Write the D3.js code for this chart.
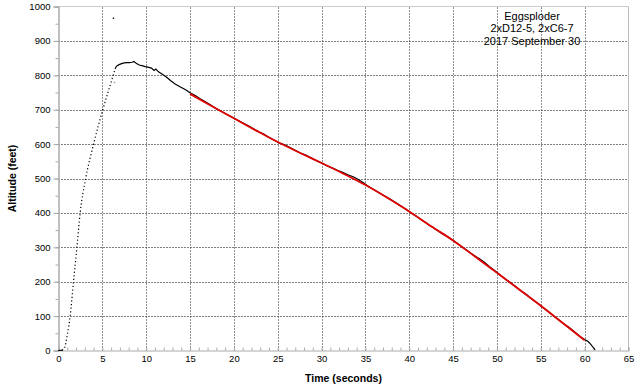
<!DOCTYPE html>
<html>
<head>
<meta charset="utf-8">
<script src="https://cdn.jsdelivr.net/npm/d3@7"></script>
<style>
  html, body { margin: 0; padding: 0; background: #fff; }
  svg { display: block; font-family: "Liberation Sans", Arial, sans-serif; }
</style>
</head>
<body>
<svg id="chart" width="640" height="388"></svg>
<script>
// Aufstieg (Punkte), Zeit in s / Höhe in ft
const ascentTime = [0, 0.3, 0.5, 0.7, 1.0, 1.33, 1.71, 2.1, 2.47, 3.1, 4.0, 5.05, 6.0, 6.45];
const ascentAlt  = [0, 1, 2, 8, 45, 100, 200, 300, 400, 500, 600, 700, 780, 818];

// Flugbahn nach Apogäum (schwarze Linie)
const flightTime = [6.45, 6.6, 6.9, 7.2, 7.5, 7.8, 8.1, 8.4, 8.6, 8.9, 9.2, 9.5, 9.9, 10.3, 10.6, 10.9, 11.1, 11.4, 11.8, 12.3, 12.8, 13.3, 13.9, 14.5,
  15, 15.6, 16.2, 16.8, 17.4, 18, 18.6, 19.2, 19.8, 20.4, 21, 21.6, 22.2, 22.8, 23.4, 24, 24.6, 25.2, 25.8, 26.4, 27, 27.6, 28.2, 28.8, 29.4,
  30, 30.6, 31.2, 31.8, 32.4, 33, 33.6, 34.2, 34.8, 35.4, 36, 36.6, 37.2, 37.8, 38.4, 39, 39.6, 40.2, 40.8, 41.4, 42, 42.6, 43.2, 43.8, 44.4,
  45, 45.6, 46.2, 46.8, 47.4, 48, 48.6, 49.2, 49.8, 50.4, 51, 51.6, 52.2, 52.8, 53.4, 54, 54.6, 55.2, 55.8, 56.4, 57, 57.6, 58.2, 58.8, 59.4,
  60, 60.4, 60.7, 61, 61.2];
const flightAlt = [818, 826, 831, 834, 836, 837, 837, 838, 840, 834, 830, 828, 825, 823, 821, 814, 818, 810, 804, 795, 784, 775, 766, 758,
  749, 741, 731, 722, 713, 703, 695, 686, 678, 670, 662, 654, 645, 636, 629, 619, 611, 603, 598, 590, 582, 574, 568, 560, 552,
  545, 537, 531, 524, 518, 511, 505, 497, 487, 476, 467, 458, 449, 440, 431, 421, 411, 400, 390, 380, 370, 359, 349, 339, 330,
  320, 309, 298, 287, 276, 267, 256, 243, 231, 219, 207, 196, 184, 172, 162, 149, 138, 126, 114, 102, 90, 78, 68, 55, 42,
  32, 26, 18, 8, 2];

// Ausgleichskurve Sinkflug (rot)
const fitTime = [15, 17.5, 20, 22.5, 25, 27.5, 30, 32.5, 35, 37.5, 40, 42.5, 45, 47.5, 50, 52.5, 55, 57.5, 60];
const fitAlt  = [746, 710, 675, 640, 606, 575, 545, 514, 481, 444, 404, 361, 320, 273, 226, 178, 130, 80, 30];

// Einzelne Ausreißer
const outlierTime = [6.27, 6.38];
const outlierAlt  = [966, 779];

const titleLines = ["Eggsploder", "2xD12-5, 2xC6-7", "2017 September 30"];
const xTicks = d3.range(0, 66, 5);
const yTicks = d3.range(0, 1001, 100);

const svg = d3.select("#chart");
const x = d3.scaleLinear().domain([0, 65]).range([58.5, 628.5]);
const y = d3.scaleLinear().domain([0, 1000]).range([350.5, 6.5]);

// Gitter
svg.append("g").selectAll("line").data(yTicks.filter(d => d > 0 && d < 1000)).join("line")
  .attr("x1", x(0)).attr("x2", x(65))
  .attr("y1", d => Math.round(y(d)) + 0.5).attr("y2", d => Math.round(y(d)) + 0.5)
  .attr("stroke", "#000").attr("stroke-dasharray", "1,2");
svg.append("g").selectAll("line").data(xTicks.filter(d => d > 0 && d < 65)).join("line")
  .attr("y1", y(0)).attr("y2", y(1000))
  .attr("x1", d => Math.round(x(d)) + 0.5).attr("x2", d => Math.round(x(d)) + 0.5)
  .attr("stroke", "#222").attr("stroke-dasharray", "1,2");

// Rahmen oben/rechts
svg.append("line").attr("x1", x(0)).attr("x2", x(65)).attr("y1", y(1000)).attr("y2", y(1000)).attr("stroke", "#ccc");
svg.append("line").attr("x1", x(65)).attr("x2", x(65)).attr("y1", y(0)).attr("y2", y(1000)).attr("stroke", "#bbb");

// Achsen
const xAxis = svg.append("g").attr("transform", `translate(0,${y(0)})`)
  .call(d3.axisBottom(x).tickValues(d3.range(0, 66, 1)).tickSize(-3).tickFormat(""));
xAxis.selectAll("line, path").attr("stroke", "#aaa");
const xLabels = svg.append("g").attr("transform", `translate(0,${y(0)})`)
  .call(d3.axisBottom(x).tickValues(xTicks).tickSize(0).tickPadding(5));
xLabels.select(".domain").remove();
xLabels.selectAll("text").attr("font-size", 9.5).attr("fill", "#000").attr("font-family", null);

const yMinor = svg.append("g").attr("transform", `translate(${x(0)},0)`)
  .call(d3.axisLeft(y).tickValues(d3.range(0, 1001, 50)).tickSize(3).tickFormat(""));
yMinor.selectAll("line, path").attr("stroke", "#aaa");
const yAxis = svg.append("g").attr("transform", `translate(${x(0)},0)`)
  .call(d3.axisLeft(y).tickValues(yTicks).tickSize(5).tickPadding(3).tickFormat(d3.format("d")));
yAxis.select(".domain").attr("stroke", "#aaa");
yAxis.selectAll("line").attr("stroke", "#aaa");
yAxis.selectAll("text").attr("font-size", 9.5).attr("fill", "#000").attr("font-family", null);

// Daten
const asc = ascentTime.map((t, i) => [t, ascentAlt[i]]);
const flight = flightTime.map((t, i) => [t, flightAlt[i]]);
const fit = fitTime.map((t, i) => [t, fitAlt[i]]);
const line = d3.line().x(d => x(d[0])).y(d => y(d[1]));

svg.append("path").attr("d", line.curve(d3.curveMonotoneX)(asc))
  .attr("fill", "none").attr("stroke", "#000").attr("stroke-width", 1.2)
  .attr("stroke-dasharray", "1.2,2.4");
svg.append("line").attr("x1", x(0)).attr("x2", x(0.5)).attr("y1", y(0)).attr("y2", y(1))
  .attr("stroke", "#000").attr("stroke-width", 1.2);
svg.append("path").attr("d", line.curve(d3.curveLinear)(flight))
  .attr("fill", "none").attr("stroke", "#000").attr("stroke-width", 1.2);
svg.append("path").attr("d", line.curve(d3.curveMonotoneX)(fit))
  .attr("fill", "none").attr("stroke", "#e00000").attr("stroke-width", 1.8);

svg.append("g").selectAll("rect").data(outlierTime).join("rect")
  .attr("x", d => x(d) - 0.7).attr("y", (d, i) => y(outlierAlt[i]) - 0.7)
  .attr("width", 1.4).attr("height", 1.4)
  .attr("fill", (d, i) => i === 0 ? "#000" : "#999");

// Beschriftung
svg.append("text").attr("x", x(32.5)).attr("y", 382).attr("text-anchor", "middle")
  .attr("font-size", 10.5).attr("font-weight", "bold").text("Time (seconds)");
svg.append("text").attr("transform", `translate(16,${y(500)}) rotate(-90)`).attr("text-anchor", "middle")
  .attr("font-size", 10.5).attr("font-weight", "bold").text("Altitude (feet)");

svg.append("g").selectAll("text").data(titleLines).join("text")
  .attr("x", 532).attr("y", (d, i) => 19.5 + i * 12.7).attr("text-anchor", "middle")
  .attr("font-size", 11).text(d => d);
</script>
</body>
</html>
